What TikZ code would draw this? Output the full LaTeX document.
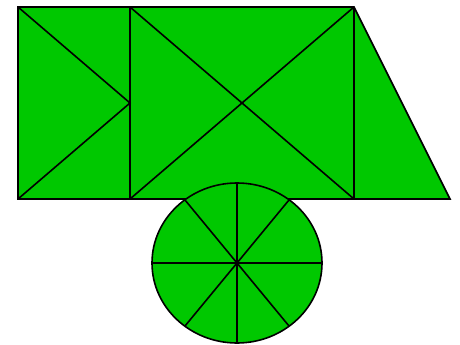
\documentclass[tikz,border=0pt]{standalone}
\definecolor{figgreen}{RGB}{0,200,0}
\begin{document}
\begin{tikzpicture}[x=1pt,y=-1pt,
  greenpart/.style={fill=figgreen,draw=black,line width=1.6pt,line join=miter},
  lineseg/.style={draw=black,line width=1.6pt}]
\useasboundingbox (0,0) rectangle (460,345);
% corners
\coordinate (A) at (18,7);
\coordinate (B) at (130,7);
\coordinate (C) at (354,7);
\coordinate (D) at (450,199);
\coordinate (E) at (354,199);
\coordinate (F) at (130,199);
\coordinate (G) at (18,199);
\coordinate (M) at (130,103);
% body
\path[greenpart] (A) -- (C) -- (D) -- (G) -- cycle;
\draw[lineseg] (B) -- (F);
\draw[lineseg] (C) -- (E);
\draw[lineseg] (A) -- (M) -- (G);
\draw[lineseg] (B) -- (E);
\draw[lineseg] (F) -- (C);
% wheel
\coordinate (O) at (237,263);
\path[greenpart] (O) ellipse [x radius=85, y radius=80];
\draw[lineseg] (237,183) -- (237,343);
\draw[lineseg] (152,263) -- (322,263);
\draw[lineseg] (185,200) -- (289,326);
\draw[lineseg] (289,200) -- (185,326);
\end{tikzpicture}
\end{document}
